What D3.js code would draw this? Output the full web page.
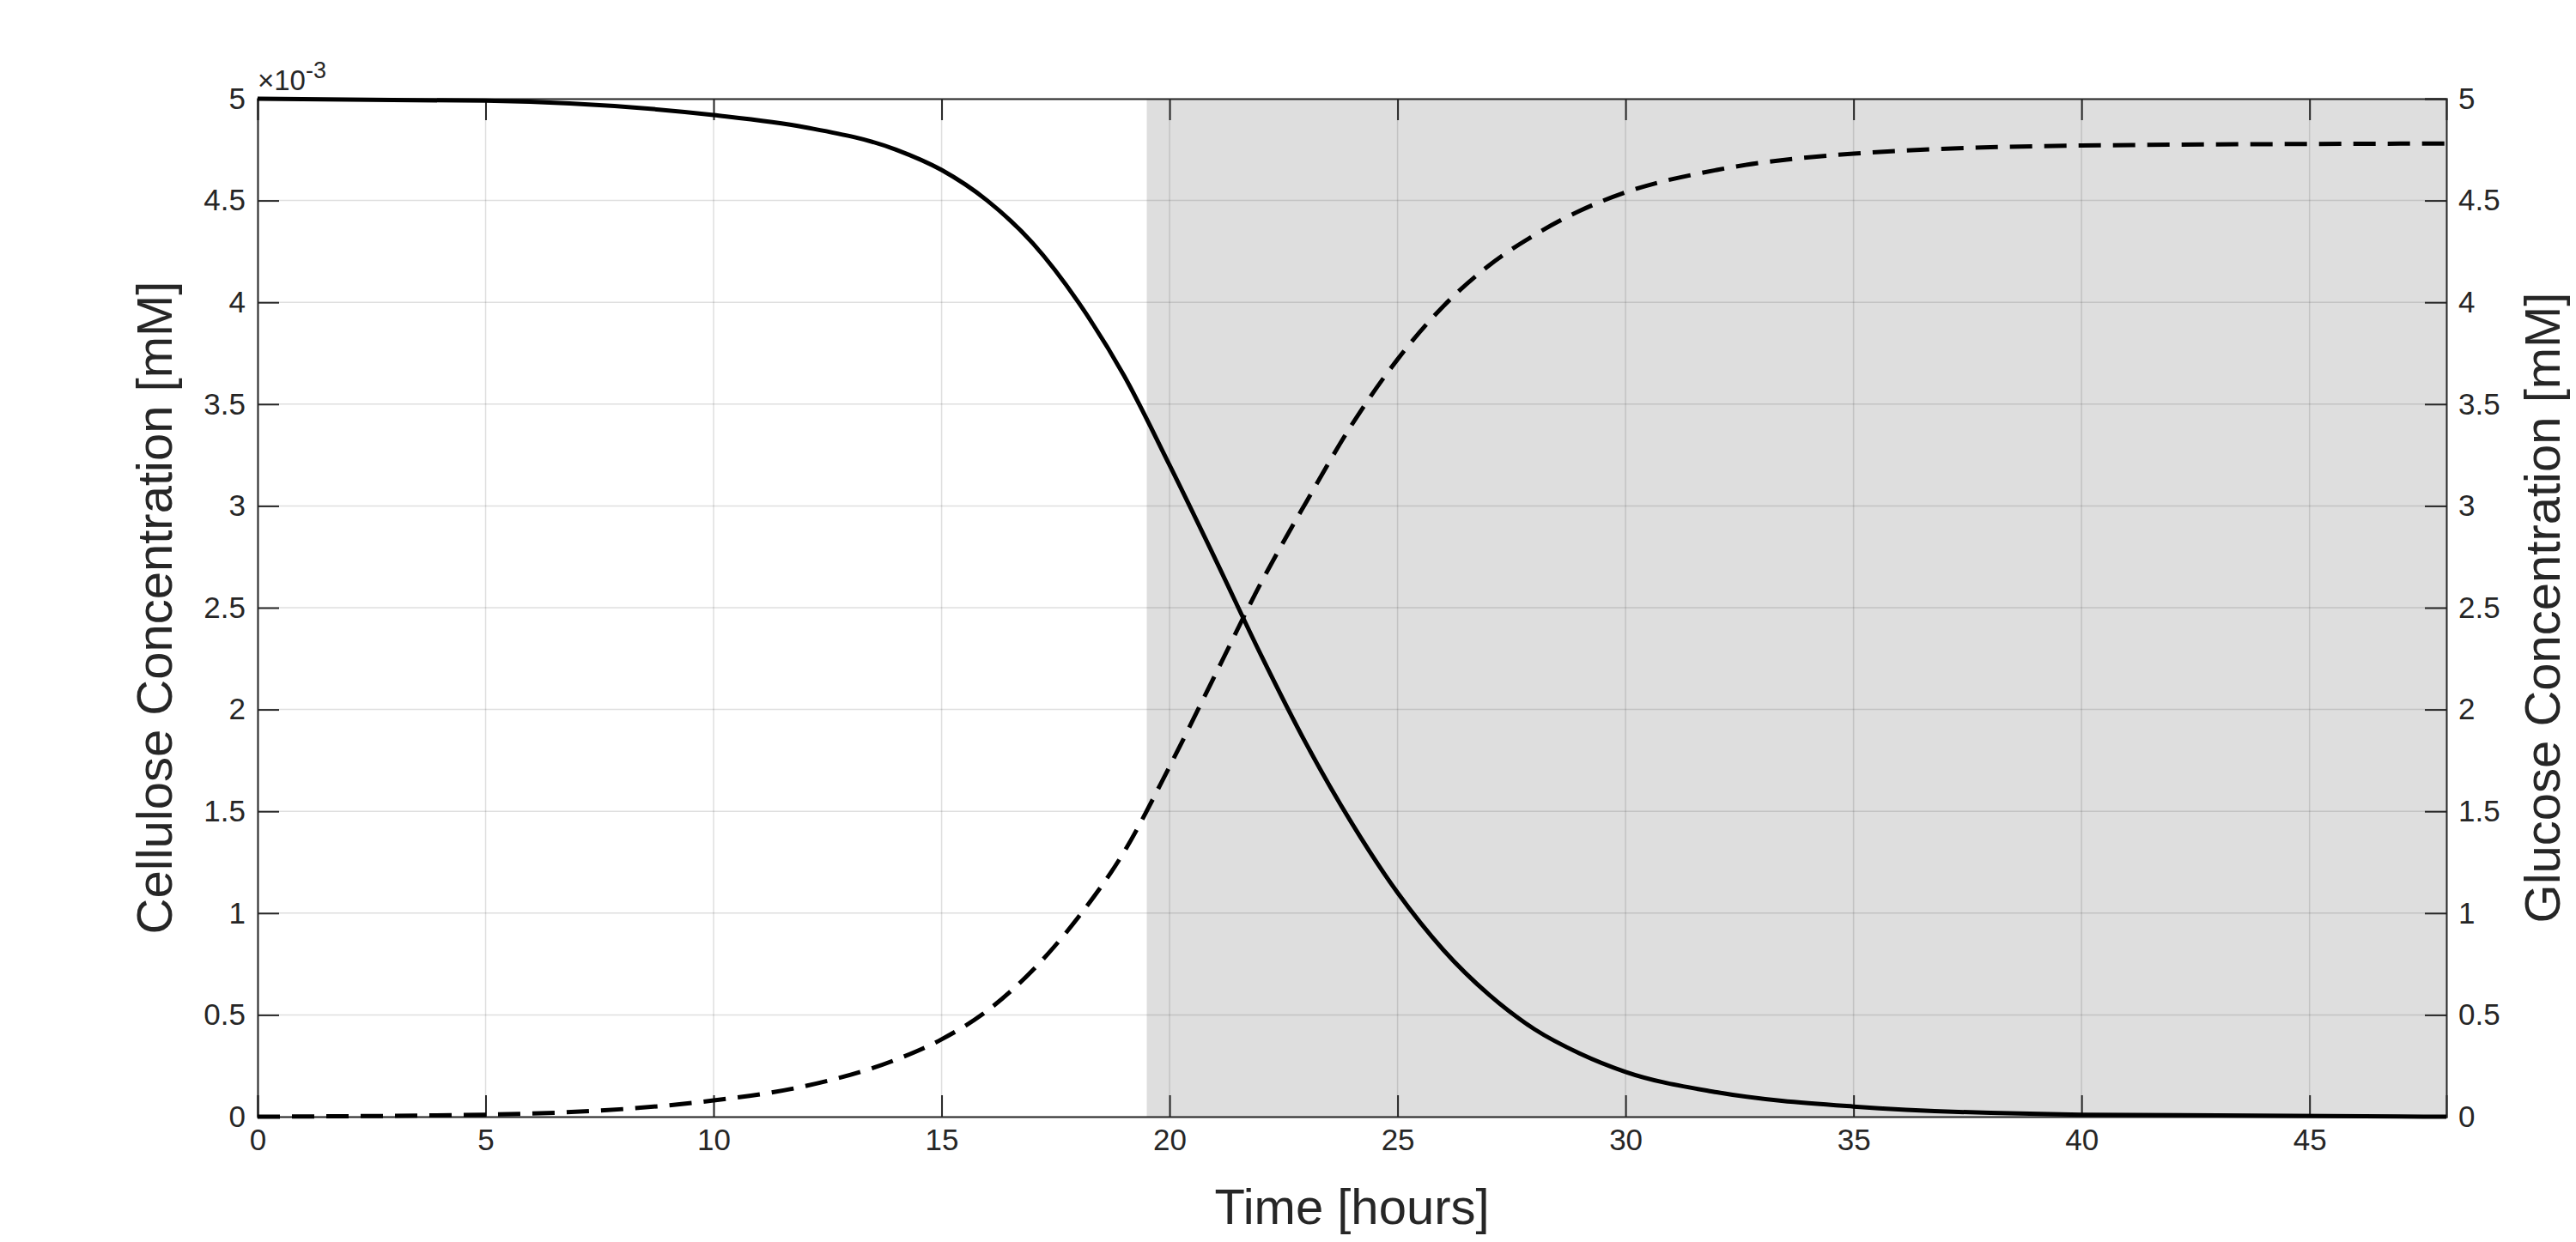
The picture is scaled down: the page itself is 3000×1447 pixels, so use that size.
<!DOCTYPE html>
<html><head><meta charset="utf-8">
<script src="https://cdn.jsdelivr.net/npm/d3@7"></script>
<style>body{margin:0;background:#fff}text{font-family:"Liberation Sans",Arial,sans-serif;fill:#262626}</style>
</head><body><div id="chart"></div>
<script>
// data (cellulose in units of 1e-3 mM)
var hours     = [0,5,10,12,14,15,16,17,18,19,20,21,22,23,24,25,26,27,28,29,30,32,35,40,48];
var cellulose = [5,4.99,4.92,4.86,4.75,4.65,4.5,4.29,4.0,3.64,3.2,2.74,2.27,1.83,1.44,1.1,0.82,0.6,0.43,0.31,0.22,0.12,0.05,0.01,0];
var glucose   = [0,0.01,0.08,0.15,0.28,0.38,0.52,0.72,0.98,1.3,1.72,2.17,2.62,3.02,3.4,3.72,3.98,4.18,4.33,4.45,4.54,4.65,4.73,4.77,4.78];
var shadeStart = 19.5;
var xTicks = [0,5,10,15,20,25,30,35,40,45];
var yTicks = [0,0.5,1,1.5,2,2.5,3,3.5,4,4.5,5];

var svgWidth = 3000, svgHeight = 1447;
var margin = {top:115, right:151, bottom:146, left:300};
var width = svgWidth - margin.left - margin.right;
var height = svgHeight - margin.top - margin.bottom;

var svg = d3.select("#chart").append("svg").attr("width", svgWidth).attr("height", svgHeight);
var g = svg.append("g").attr("transform", `translate(${margin.left},${margin.top})`);

var x = d3.scaleLinear().domain([0,48]).range([0,width]);
var yL = d3.scaleLinear().domain([0,5]).range([height,0]);
var yR = d3.scaleLinear().domain([0,5]).range([height,0]);

// shaded region
g.append("rect").attr("x", x(shadeStart)).attr("y", 0)
  .attr("width", x(48) - x(shadeStart)).attr("height", height).attr("fill", "#dedede");

// grid
g.selectAll(".gx").data(xTicks).enter().append("line")
  .attr("x1", d => x(d)).attr("x2", d => x(d)).attr("y1", 0).attr("y2", height)
  .attr("stroke", "#262626").attr("stroke-opacity", 0.15).attr("stroke-width", 1.5);
g.selectAll(".gy").data(yTicks).enter().append("line")
  .attr("y1", d => yL(d)).attr("y2", d => yL(d)).attr("x1", 0).attr("x2", width)
  .attr("stroke", "#262626").attr("stroke-opacity", 0.15).attr("stroke-width", 1.5);

function styleAxis(sel){
  sel.selectAll("path").attr("stroke", "#262626").attr("stroke-width", 2);
  sel.selectAll("line").attr("stroke", "#262626").attr("stroke-width", 2);
  sel.selectAll("text").style("font-size", "35px").attr("fill", "#262626");
}
var fmt = d => String(d);
g.append("g").attr("transform", `translate(0,${height})`)
  .call(d3.axisBottom(x).tickValues(xTicks).tickSize(-25).tickPadding(14).tickFormat(fmt)).call(styleAxis);
g.append("g").call(d3.axisTop(x).tickValues(xTicks).tickSize(-25).tickFormat("")).call(styleAxis);
g.append("g").call(d3.axisLeft(yL).tickValues(yTicks).tickSize(-25).tickPadding(14).tickFormat(fmt)).call(styleAxis);
g.append("g").attr("transform", `translate(${width},0)`)
  .call(d3.axisRight(yR).tickValues(yTicks).tickSize(-25).tickPadding(14).tickFormat(fmt)).call(styleAxis);

// lines
var lineC = d3.line().x((d,i) => x(hours[i])).y(d => yL(d)).curve(d3.curveMonotoneX);
var lineG = d3.line().x((d,i) => x(hours[i])).y(d => yR(d)).curve(d3.curveMonotoneX);
g.append("path").datum(cellulose).attr("d", lineC).attr("fill", "none")
  .attr("stroke", "#000").attr("stroke-width", 5);
g.append("path").datum(glucose).attr("d", lineG).attr("fill", "none")
  .attr("stroke", "#000").attr("stroke-width", 5).attr("stroke-dasharray", "26,14");

// exponent label
var ex = g.append("text").attr("x", 0).attr("y", -10).style("font-size", "33px");
ex.append("tspan").text("\u00d710");
ex.append("tspan").attr("dy", -14).style("font-size", "27px").text("-3");

// axis labels
g.append("text").attr("x", width/2).attr("y", height + 125).attr("text-anchor", "middle")
  .style("font-size", "58px").text("Time [hours]");
g.append("text").attr("transform", `translate(${-100},${height/2}) rotate(-90)`)
  .attr("text-anchor", "middle").style("font-size", "58px").text("Cellulose Concentration [mM]");
g.append("text").attr("transform", `translate(${width + 132},${height/2}) rotate(-90)`)
  .attr("text-anchor", "middle").style("font-size", "58px").text("Glucose Concentration [mM]");
</script></body></html>
